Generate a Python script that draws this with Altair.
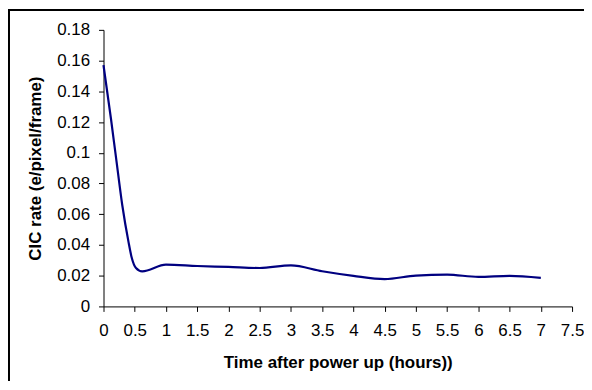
import altair as alt
import pandas as pd

# Data
hours = [0, 0.12, 0.2, 0.3, 0.4, 0.45, 0.52, 0.62, 1.0, 1.5, 2.0, 2.5, 3.0, 3.5,
         4.0, 4.5, 5.0, 5.5, 6.0, 6.5, 7.0]
cic_rate = [0.157, 0.122, 0.097, 0.066, 0.042, 0.032, 0.025, 0.0228, 0.0272, 0.0263,
            0.0257, 0.0250, 0.0267, 0.0229, 0.0199, 0.0178, 0.0201, 0.0207, 0.0192,
            0.0199, 0.0186]

y_ticks = [0, 0.02, 0.04, 0.06, 0.08, 0.1, 0.12, 0.14, 0.16, 0.18]
x_ticks = [0, 0.5, 1, 1.5, 2, 2.5, 3, 3.5, 4, 4.5, 5, 5.5, 6, 6.5, 7, 7.5]

df = pd.DataFrame({"hours": hours, "rate": cic_rate})

FONT = "Liberation Sans"
W, H = 471, 278
PAD = {"left": 96, "top": 21, "right": 12, "bottom": 75}
LABEL_SIZE = 17

line = alt.Chart(df).mark_line(color="#000080", strokeWidth=2.2, interpolate="monotone").encode(
    x=alt.X("hours:Q",
            scale=alt.Scale(domain=[0, 7.5], nice=False),
            axis=alt.Axis(values=x_ticks, labelExpr="format(datum.value, '~g')",
                          title="Time after power up (hours))",
                          labelFont=FONT, labelFontSize=LABEL_SIZE,
                          labelPadding=11, titlePadding=16)),
    y=alt.Y("rate:Q",
            scale=alt.Scale(domain=[0, 0.18], nice=False),
            axis=alt.Axis(values=y_ticks, labelExpr="format(datum.value, '~g')",
                          title="CIC rate (e/pixel/frame)",
                          labelFont=FONT, labelFontSize=LABEL_SIZE,
                          labelPadding=9, titlePadding=12)),
)

frame_df = pd.DataFrame({"k": [0]})
left_edge = alt.Chart(frame_df).mark_rule(color="black", strokeWidth=2).encode(
    x=alt.value(-PAD["left"] + 1), y=alt.value(-PAD["top"]),
    y2=alt.value(H + PAD["bottom"]))
top_edge = alt.Chart(frame_df).mark_rule(color="black", strokeWidth=2).encode(
    x=alt.value(-PAD["left"]), x2=alt.value(W + PAD["right"]),
    y=alt.value(-PAD["top"] + 1))

chart = alt.layer(line, left_edge, top_edge).properties(
    width=W, height=H,
    padding=PAD,
    autosize=alt.AutoSizeParams(type="none"),
    background="white",
).configure_view(stroke=None).configure_axis(
    domainColor="black", domainWidth=1,
    tickColor="black", tickSize=5, tickWidth=1,
    grid=False,
    labelColor="black",
    titleFont=FONT, titleFontSize=17, titleFontWeight="bold", titleColor="black",
    labelFlush=False, labelOverlap=False,
)

chart.save("out.html", embed_options={"renderer": "svg", "actions": False})
